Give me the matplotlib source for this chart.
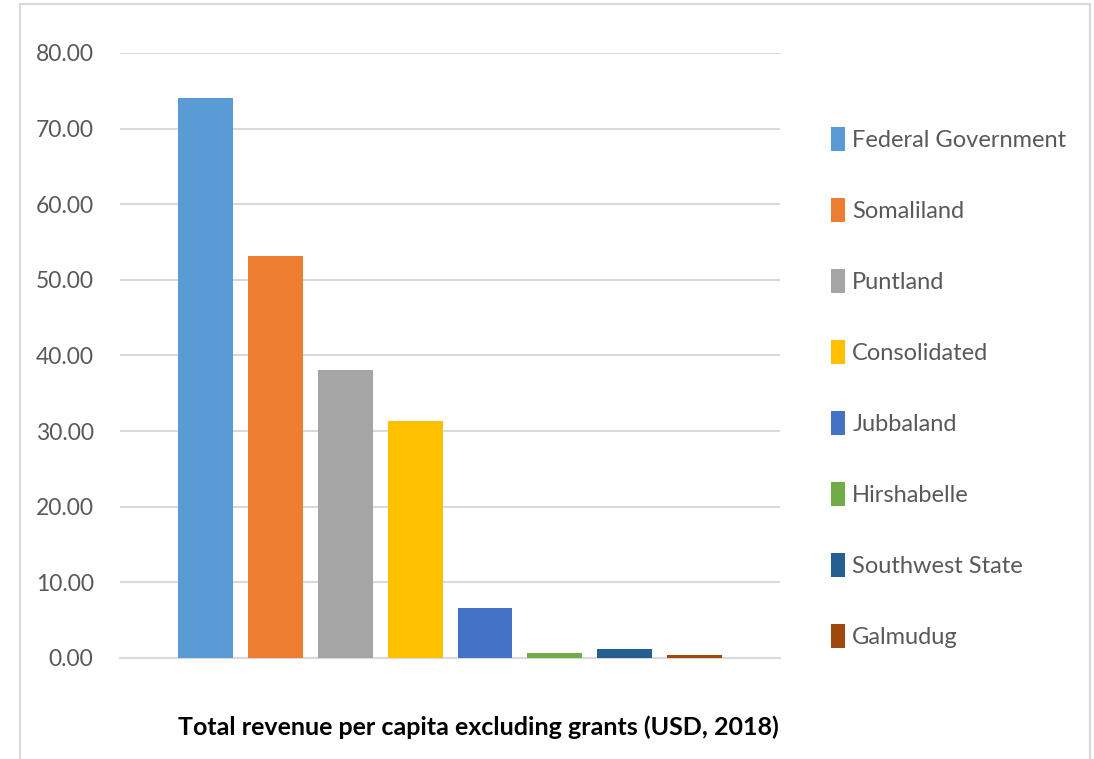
import matplotlib.pyplot as plt
from matplotlib.patches import Rectangle

# values per region (USD per capita, 2018)
regions = ['Federal Government', 'Somaliland', 'Puntland', 'Consolidated',
           'Jubbaland', 'Hirshabelle', 'Southwest State', 'Galmudug']
revenue = [74.1, 53.1, 38.1, 31.4, 6.6, 0.7, 1.15, 0.45]
colors = ['#5B9BD5', '#ED7D31', '#A5A5A5', '#FFC000',
          '#4472C4', '#70AD47', '#255E91', '#9E480E']
yticks = [0, 10, 20, 30, 40, 50, 60, 70, 80]

plt.rcParams['font.family'] = ['Lato', 'DejaVu Sans']

fig = plt.figure(figsize=(10.94, 7.59), dpi=100)
ax = fig.add_axes([0.1097, 0.1331, 0.6033, 0.7971])

# outer chart border
fig.patches.append(Rectangle((20 / 1094, -0.01), 1070 / 1094, 1 - 4 / 759 + 0.01,
                             transform=fig.transFigure, fill=False,
                             edgecolor='#d9d9d9', linewidth=1.5))

for i in range(len(regions)):
    ax.bar(i, revenue[i], width=0.785, color=colors[i], label=regions[i], zorder=3)

ax.set_xlim(-1.23, 8.23)
ax.set_ylim(0, 80)
ax.set_yticks(yticks)
ax.set_yticklabels([f'{v:.2f}' for v in yticks])
ax.set_xticks([])
ax.yaxis.grid(True, color='#d9d9d9', linewidth=1.5, zorder=0)
for s in ['top', 'right', 'left']:
    ax.spines[s].set_visible(False)
ax.spines['bottom'].set_color('#d9d9d9')
ax.spines['bottom'].set_linewidth(1.5)
ax.tick_params(axis='y', length=0, pad=19, labelsize=16.5, labelcolor='#595959')

leg = fig.legend(loc='upper left', bbox_to_anchor=(831 / 1094, 1 - 127 / 759),
                 frameon=False, fontsize=17, labelcolor='#595959',
                 handlelength=0.6, handleheight=1.2, handletextpad=0.3,
                 labelspacing=1.98, borderpad=0, borderaxespad=0)

fig.text(478 / 1094, 1 - 727 / 759, 'Total revenue per capita excluding grants (USD, 2018)',
         ha='center', va='center', fontsize=18, fontweight='bold', color='black')

fig.savefig('out.png', dpi=100)
